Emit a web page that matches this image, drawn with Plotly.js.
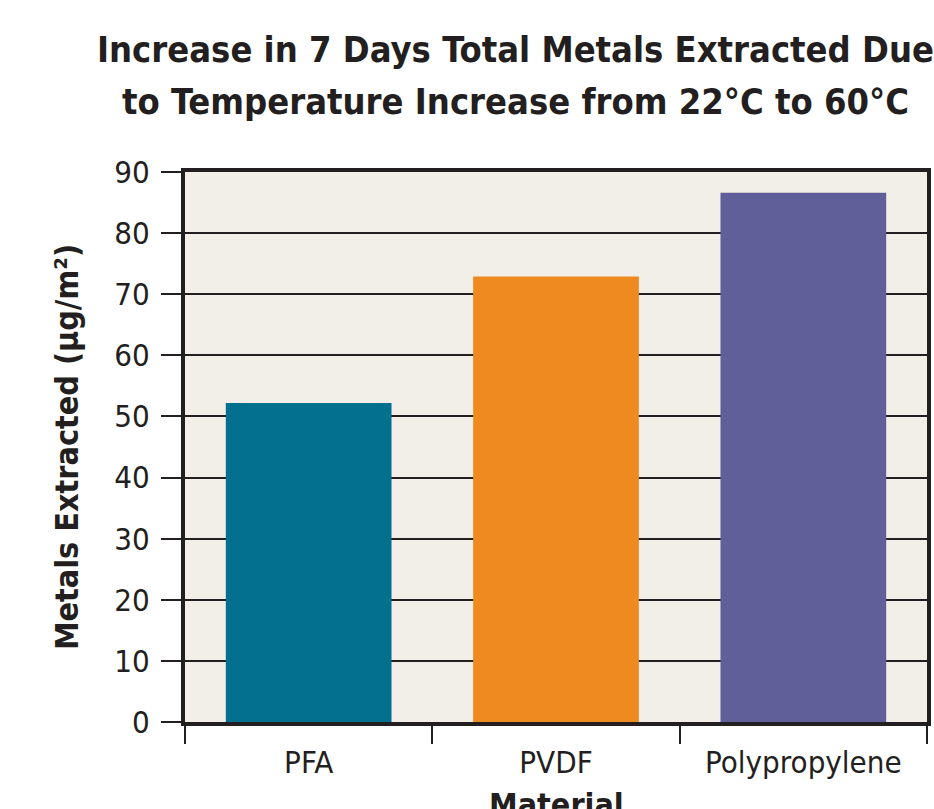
<!DOCTYPE html>
<html><head><meta charset="utf-8">
<script src="https://cdn.plot.ly/plotly-3.0.1.min.js"></script>
<style>body{margin:0;background:#fff}#chart{width:934px;height:809px}</style>
</head><body><div id="chart"></div>
<script>
const categories = ["PFA", "PVDF", "Polypropylene"];
const values = [52.2, 72.9, 86.6];
const barColors = ["#03708f", "#ee8a1f", "#615f99"];
const yTicks = [0, 10, 20, 30, 40, 50, 60, 70, 80, 90];
const titleLines = ["Increase in 7 Days Total Metals Extracted Due", "to Temperature Increase from 22°C to 60°C"];
const xTitle = "Material";

const font = "DejaVu Sans Condensed, Liberation Sans Narrow, sans-serif";
const plotH = 809 - 172 - 87;
const plotW = 934 - 185 - 7;
const trace = {
  type: "bar", x: categories, y: values,
  marker: {color: barColors, line: {width: 0}},
  hoverinfo: "x+y"
};
const annotations = titleLines.map((t, i) => ({
  text: "<b>" + t + "</b>", showarrow: false,
  xref: "paper", yref: "paper",
  x: (515 - 185) / plotW, xanchor: "center",
  y: 1 + (172 - (i === 0 ? 72 : 124)) / plotH, yanchor: "bottom",
  font: {family: font, size: 36, color: "#231f20"}
}));
annotations.push({
  text: "<b>" + xTitle + "</b>", showarrow: false,
  xref: "paper", yref: "paper",
  x: 0.5, xanchor: "center",
  y: -(784 - 722) / plotH, yanchor: "top",
  font: {family: font, size: 32, color: "#231f20"}
});
const layout = {
  width: 934, height: 809,
  margin: {l: 185, r: 7, t: 172, b: 87},
  paper_bgcolor: "#ffffff", plot_bgcolor: "#f2eee8",
  bargap: 0.33,
  showlegend: false,
  annotations: annotations,
  xaxis: {
    type: "category",
    showline: true, linewidth: 4, linecolor: "#231f20", mirror: true,
    ticks: "outside", tickson: "boundaries", ticklen: 18, tickwidth: 2, tickcolor: "#231f20",
    ticklabelstandoff: 10,
    tickfont: {family: font, size: 31, color: "#231f20"},
    showgrid: false
  },
  yaxis: {
    range: [0, 90], tickvals: yTicks,
    showline: true, linewidth: 4, linecolor: "#231f20", mirror: true,
    ticks: "outside", ticklen: 20, tickwidth: 2, tickcolor: "#231f20",
    ticklabelstandoff: 5,
    showgrid: true, gridcolor: "#231f20", gridwidth: 2,
    zeroline: false,
    tickfont: {family: font, size: 31, color: "#231f20"},
    title: {text: "<b>Metals Extracted (µg/m²)</b>", font: {family: font, size: 32, color: "#231f20"}, standoff: 27}
  }
};
Plotly.newPlot("chart", [trace], layout, {displayModeBar: false, staticPlot: true});
</script></body></html>
